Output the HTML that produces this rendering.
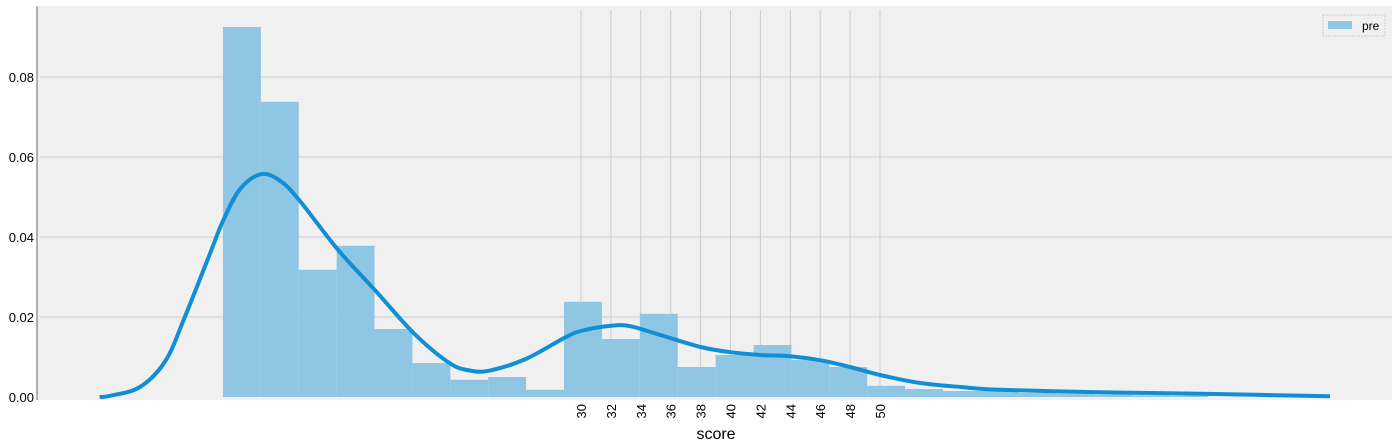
<!DOCTYPE html>
<html><head><meta charset="utf-8"><style>
body{margin:0;background:#fff;}
svg{display:block;font-family:"Liberation Sans","DejaVu Sans",sans-serif;}
</style></head><body>
<svg id="chart" width="1400" height="446" viewBox="0 0 1400 446" xmlns="http://www.w3.org/2000/svg">
<rect x="37" y="6" width="1355" height="394" fill="#f0f0f0"/>
<g id="grid"></g>
<g id="bars"></g>
<path id="kde" fill="none" stroke="#108fd4" stroke-width="4"/>
<line x1="37" y1="6" x2="37" y2="400" stroke="#666" stroke-width="1"/>
<g id="yticks"></g>
<g id="xticks"></g>
<text x="716" y="439" font-size="16" text-anchor="middle" fill="#000">score</text>
<g>
<rect x="1323" y="15" width="62" height="21" fill="#f0f0f0" stroke="#ccc" stroke-dasharray="2,1"/>
<rect x="1328" y="21" width="24" height="8" fill="#8fc6e4"/>
<text x="1362" y="30" font-size="12" fill="#000">pre</text>
</g>
</svg>
<script>
const binStart = 6.05;
const binWidth = 2.535;
const barHeights = [0.0925,0.0738,0.0318,0.0378,0.0170,0.0085,0.0043,0.0050,0.0018,0.0238,0.0145,0.0208,0.0075,0.0105,0.0130,0.0093,0.0075,0.0028,0.0020,0.0015,0.0015,0.0010,0.0008,0.0006,0.0004,0.0003];
const kdeX = [-2.2,-1.5,0.5,2.2,3.5,5.2,6.05,7.2,8.6,9.9,11.2,13.7,16.2,18.8,21.2,22.6,23.9,26.3,28.9,30,32,33.3,35.3,38,40,42,44,46,48,50,52.7,55.4,58,64.7,71.4,80.1];
const kdeY = [0,0.0003,0.0025,0.009,0.02,0.036,0.044,0.052,0.0557,0.054,0.049,0.037,0.0268,0.016,0.0085,0.0066,0.0066,0.0095,0.0148,0.0165,0.0178,0.0177,0.0155,0.0125,0.0112,0.0105,0.0102,0.0092,0.0075,0.0055,0.0035,0.0025,0.0018,0.0012,0.0008,0.0002];
const xTicks = [30,32,34,36,38,40,42,44,46,48,50];
const yTicks = [0,0.02,0.04,0.06,0.08];

const NS = "http://www.w3.org/2000/svg";
const xs = v => 581 + (v - 30) * 14.95;
const ys = v => 397 - v * 4000;
function mk(tag, attrs, parent){const e=document.createElementNS(NS,tag);for(const k in attrs)e.setAttribute(k,attrs[k]);parent.appendChild(e);return e;}
const grid=document.getElementById('grid'), bars=document.getElementById('bars'), yt=document.getElementById('yticks'), xt=document.getElementById('xticks');
yTicks.forEach(t=>{
  if(t>0){const l=mk('line',{x1:40,x2:1392,y1:ys(t),y2:ys(t),stroke:'#cbcbcb','stroke-width':1},grid);
  
  }
  const tx=mk('text',{x:34,y:ys(t)+5,'font-size':13,'text-anchor':'end',fill:'#000'},yt);
  tx.textContent=t.toFixed(2);
  
  
});
xTicks.forEach(t=>{
  const l=mk('line',{x1:xs(t),x2:xs(t),y1:10,y2:397,stroke:'#cbcbcb','stroke-width':1},grid);
  
  
  const tx=mk('text',{x:0,y:0,'font-size':13,'text-anchor':'end',fill:'#000',transform:`translate(${xs(t)+5},404) rotate(-90)`},xt);
  tx.textContent=t;
  
  
});
barHeights.forEach((h,i)=>{
  const x0=xs(binStart+i*binWidth), x1=xs(binStart+(i+1)*binWidth);
  const r=mk('rect',{x:x0,y:ys(h),width:x1-x0,height:ys(0)-ys(h),fill:'#8fc6e4'},bars);
  
  
});
const P=kdeX.map((v,i)=>[xs(v),ys(kdeY[i])]);
let d=`M${P[0][0]},${P[0][1]}`;
for(let i=0;i<P.length-1;i++){
  const p0=P[Math.max(0,i-1)],p1=P[i],p2=P[i+1],p3=P[Math.min(P.length-1,i+2)];
  const c1=[p1[0]+(p2[0]-p0[0])/6,p1[1]+(p2[1]-p0[1])/6];
  const c2=[p2[0]-(p3[0]-p1[0])/6,p2[1]-(p3[1]-p1[1])/6];
  d+=` C${c1[0]},${c1[1]} ${c2[0]},${c2[1]} ${p2[0]},${p2[1]}`;
}
document.getElementById('kde').setAttribute('d',d);
</script>
</body></html>
